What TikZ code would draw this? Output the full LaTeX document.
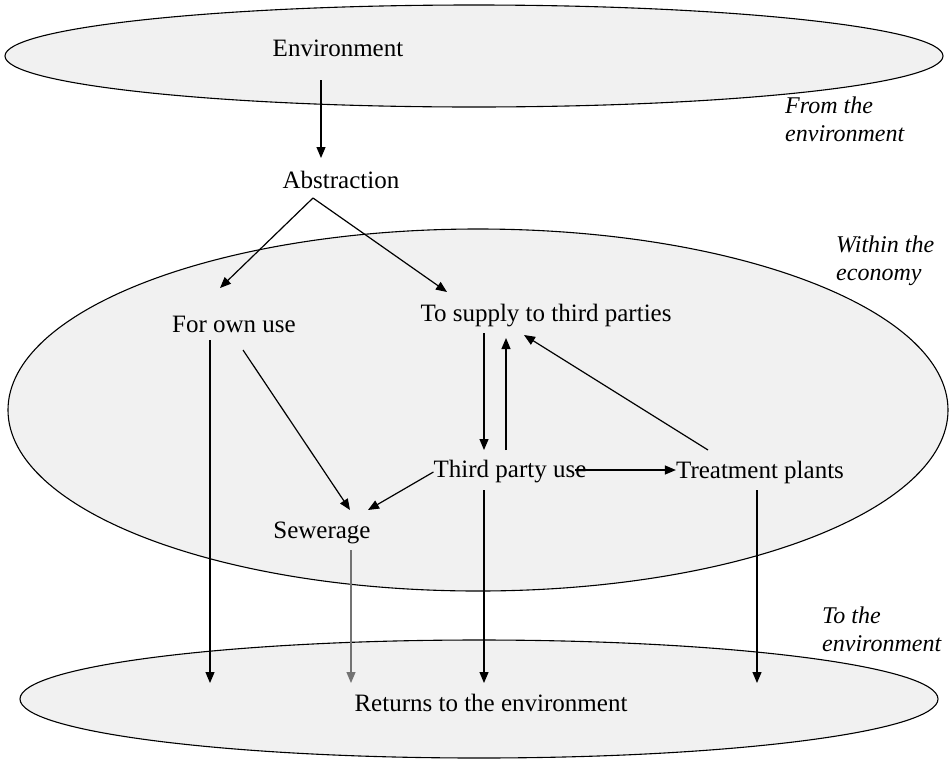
\documentclass[tikz,border=0pt]{standalone}
\usepackage{fontspec}
\setmainfont{Liberation Serif}
\usetikzlibrary{arrows.meta}
\definecolor{ellfill}{HTML}{F1F1F1}
\tikzset{
  region/.style={draw=black, line width=1.1pt, fill=ellfill},
  lbl/.style={font=\fontsize{25}{27}\selectfont, inner sep=0pt},
  side/.style={font=\fontsize{24}{28}\selectfont\itshape, align=left, anchor=north west, inner sep=0pt},
  flow/.style={line width=1.2pt, -{Triangle[length=11pt,width=9pt]}},
}
\begin{document}
\begin{tikzpicture}[x=1pt,y=-1pt]
\useasboundingbox (0,0) rectangle (950,761);
% regions
\draw[region] (474,56) ellipse [x radius=469, y radius=51];
\draw[region] (478,410) ellipse [x radius=470, y radius=181];
\draw[region] (479,699) ellipse [x radius=459, y radius=59];
% labels
\node[lbl] (env) at (338,48) {Environment};
\node[lbl] (abs) at (341,180) {Abstraction};
\node[lbl] (own) at (234,324) {For own use};
\node[lbl] (sup) at (546,316) {To supply to third parties};
\node[lbl] (tpu) at (510,472) {Third party use};
\node[lbl] (trt) at (760,472) {Treatment plants};
\node[lbl] (sew) at (322,533) {Sewerage};
\node[lbl] (ret) at (491,703) {Returns to the environment};
\node[side] (t1) at (785,97) {From the\\environment};
\node[side] (t2) at (836,236) {Within the\\economy};
\node[side] (t3) at (822,607) {To the\\environment};
% anchor points
\coordinate (absfork) at (313,198);
\coordinate (tpuout) at (575,470);
\coordinate (r1) at (210,683);
\coordinate (r2) at (351,683);
\coordinate (r3) at (484,683);
\coordinate (r4) at (757,683);
% flows
\draw[flow] (321,80) -- (321,158);
\draw[flow] (absfork) -- (220,288);
\draw[flow] (absfork) -- (447,292);
\draw[flow] (210,340) -- (r1);
\draw[flow] (243,350) -- (350,510);
\draw[flow] (tpu.west) -- (368,510);
\draw[flow] (484,333) -- (484,450);
\draw[flow] (506,450) -- (506,338);
\draw[flow] (708,450) -- (524,335);
\draw[flow] (tpuout) -- (trt.west |- tpuout);
\draw[flow, draw=black!55] (351,550) -- (r2);
\draw[flow] (484,490) -- (r3);
\draw[flow] (757,490) -- (r4);
\end{tikzpicture}
\end{document}
